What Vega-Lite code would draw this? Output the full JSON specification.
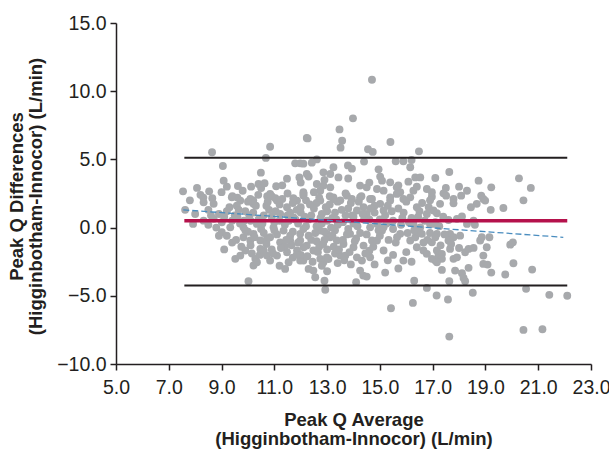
{
"$schema":"https://vega.github.io/schema/vega-lite/v6.json",
"width":475,"height":341,
"autosize":{"type":"none"},
"padding":{"left":116,"top":23,"right":18,"bottom":85},
"config":{"view":{"stroke":null},"font":"Liberation Sans",
"axis":{"domainColor":"#231f20","domainWidth":1.5,"tickColor":"#231f20","tickWidth":1.5,"tickSize":6,"labelFont":"Liberation Sans","labelFontSize":19.5,"labelColor":"#231f20","titleFont":"Liberation Sans","titleFontSize":18.5,"titleFontWeight":"bold","titleColor":"#231f20","grid":false,"format":".1f","titleLineHeight":19,"labelFlush":false,"labelOverlap":false}},
"datasets":{
"pts":[
{"avg":8.64,"diff":5.52},{"avg":10.84,"diff":5.93},{"avg":10.68,"diff":5.11},{"avg":12.23,"diff":6.57},{"avg":9.05,"diff":4.52},{"avg":10.49,"diff":4.03},{"avg":7.54,"diff":2.66},{"avg":8.07,"diff":2.91},{"avg":8.53,"diff":2.66},{"avg":9.08,"diff":3.44},{"avg":9.2,"diff":3.0},{"avg":9.62,"diff":3.05},{"avg":10.12,"diff":3.0},{"avg":10.4,"diff":3.2},{"avg":10.63,"diff":3.25},{"avg":11.07,"diff":3.03},{"avg":11.48,"diff":3.59},{"avg":11.79,"diff":4.71},{"avg":11.98,"diff":4.71},{"avg":11.95,"diff":3.68},{"avg":12.23,"diff":3.93},
{"avg":8.31,"diff":2.2},{"avg":8.65,"diff":2.15},{"avg":9.41,"diff":2.3},{"avg":9.6,"diff":2.2},{"avg":10.09,"diff":2.1},{"avg":10.39,"diff":2.4},{"avg":10.73,"diff":2.3},{"avg":11.04,"diff":2.15},{"avg":11.72,"diff":2.15},{"avg":12.1,"diff":2.35},
{"avg":14.7,"diff":10.84},{"avg":13.98,"diff":8.01},{"avg":13.47,"diff":7.2},{"avg":13.57,"diff":6.37},{"avg":13.51,"diff":5.86},{"avg":12.26,"diff":6.54},{"avg":15.4,"diff":6.28},{"avg":14.55,"diff":5.74},{"avg":14.73,"diff":5.55},{"avg":16.48,"diff":5.59},{"avg":12.61,"diff":5.0},{"avg":12.1,"diff":4.69},{"avg":12.42,"diff":4.76},{"avg":13.79,"diff":4.56},{"avg":13.94,"diff":4.32},{"avg":14.4,"diff":4.84},{"avg":14.95,"diff":4.27},{"avg":15.6,"diff":4.86},{"avg":15.89,"diff":4.86},{"avg":16.2,"diff":4.96},{"avg":16.15,"diff":4.42},{"avg":12.3,"diff":3.75},{"avg":12.86,"diff":4.05},{"avg":13.12,"diff":3.93},{"avg":13.24,"diff":4.42},{"avg":13.43,"diff":3.68},{"avg":15.01,"diff":3.74},{"avg":15.08,"diff":3.44},{"avg":15.39,"diff":3.32},{"avg":16.34,"diff":3.68},{"avg":16.53,"diff":3.68},{"avg":17.1,"diff":3.64},{"avg":16.08,"diff":3.37},{"avg":12.61,"diff":3.2},{"avg":12.86,"diff":3.08},{"avg":13.12,"diff":2.95},{"avg":14.25,"diff":3.08},{"avg":14.5,"diff":2.95},{"avg":12.1,"diff":2.59},{"avg":12.74,"diff":2.71},{"avg":14.89,"diff":2.83},{"avg":15.14,"diff":2.71},{"avg":15.64,"diff":2.95},{"avg":15.77,"diff":2.59},{"avg":16.27,"diff":2.71},{"avg":16.78,"diff":2.83},{"avg":13.24,"diff":2.1},{"avg":13.94,"diff":2.1},{"avg":14.25,"diff":2.22},{"avg":14.63,"diff":2.1},{"avg":15.39,"diff":2.22},{"avg":15.89,"diff":2.1},{"avg":16.97,"diff":2.27},
{"avg":17.63,"diff":4.08},{"avg":18.74,"diff":3.44},{"avg":19.22,"diff":2.95},{"avg":20.27,"diff":3.61},{"avg":20.72,"diff":2.91},{"avg":17.41,"diff":2.51},{"avg":17.51,"diff":2.34},{"avg":17.79,"diff":2.1},{"avg":18.08,"diff":2.34},{"avg":18.84,"diff":2.34},{"avg":18.92,"diff":2.1},{"avg":20.44,"diff":2.0},{"avg":16.97,"diff":2.59},
{"avg":17.79,"diff":1.78},{"avg":18.99,"diff":1.98},{"avg":18.67,"diff":1.74},{"avg":18.45,"diff":1.49},{"avg":19.2,"diff":1.3},{"avg":19.68,"diff":1.44},{"avg":17.16,"diff":1.05},{"avg":17.6,"diff":0.56},{"avg":17.92,"diff":0.64},{"avg":18.11,"diff":0.81},{"avg":18.3,"diff":0.27},{"avg":18.55,"diff":0.51},{"avg":18.6,"diff":0.2},{"avg":16.9,"diff":0.27},{"avg":17.1,"diff":0.39},{"avg":17.16,"diff":-0.46},{"avg":17.1,"diff":-0.71},{"avg":16.97,"diff":-1.08},{"avg":17.66,"diff":-0.46},{"avg":17.79,"diff":-0.71},{"avg":17.6,"diff":-0.95},{"avg":18.04,"diff":-0.59},{"avg":18.86,"diff":-0.71},{"avg":18.8,"diff":-0.95},{"avg":19.15,"diff":-0.71},{"avg":19.05,"diff":-1.44},{"avg":19.94,"diff":-1.25},{"avg":20.04,"diff":-1.08},{"avg":17.16,"diff":-1.68},{"avg":17.22,"diff":-2.05},{"avg":17.35,"diff":-1.93},{"avg":17.1,"diff":-2.42},{"avg":17.35,"diff":-2.29},{"avg":17.66,"diff":-1.56},{"avg":17.79,"diff":-2.29},{"avg":17.92,"diff":-2.18},{"avg":18.23,"diff":-1.81},{"avg":18.36,"diff":-1.56},{"avg":18.55,"diff":-1.49},{"avg":18.92,"diff":-2.05},{"avg":18.92,"diff":-2.66},{"avg":19.08,"diff":-2.71},{"avg":20.06,"diff":-2.61},{"avg":17.35,"diff":-3.1},{"avg":17.85,"diff":-3.15},{"avg":18.11,"diff":-3.35},{"avg":18.17,"diff":-3.69},{"avg":18.23,"diff":-3.93},{"avg":18.36,"diff":-2.95},{"avg":19.22,"diff":-3.3},{"avg":19.75,"diff":-3.44},{"avg":20.77,"diff":-3.08},{"avg":17.63,"diff":-3.93},{"avg":20.54,"diff":-4.49},{"avg":17.15,"diff":-4.98},{"avg":17.58,"diff":-5.27},{"avg":18.52,"diff":-4.78},{"avg":21.42,"diff":-4.93},{"avg":22.1,"diff":-5.0},{"avg":20.44,"diff":-7.5},{"avg":21.16,"diff":-7.45},{"avg":17.63,"diff":-7.99},
{"avg":15.77,"diff":-0.46},{"avg":15.33,"diff":-0.9},{"avg":15.14,"diff":-1.68},{"avg":15.89,"diff":-2.42},{"avg":12.93,"diff":-4.56},{"avg":15.42,"diff":-5.91},{"avg":16.25,"diff":-5.52},{"avg":16.78,"diff":-4.42},{"avg":14.25,"diff":-3.15},{"avg":14.37,"diff":-3.52},{"avg":14.5,"diff":-3.59},{"avg":12.48,"diff":-3.15},{"avg":12.55,"diff":-3.64},{"avg":12.1,"diff":-2.42},{"avg":12.74,"diff":-2.29},{"avg":12.99,"diff":-2.18},{"avg":12.86,"diff":-2.54},{"avg":13.5,"diff":-2.05},{"avg":13.69,"diff":-2.05},{"avg":14.13,"diff":-2.18},{"avg":14.32,"diff":-2.42},{"avg":14.63,"diff":-2.18},{"avg":14.0,"diff":-1.44},{"avg":14.38,"diff":-1.32},{"avg":14.7,"diff":-0.95},{"avg":14.89,"diff":-0.95},{"avg":15.08,"diff":-0.22},{"avg":16.4,"diff":-1.44},{"avg":16.65,"diff":-1.68},{"avg":16.78,"diff":-1.93},{"avg":16.97,"diff":-2.29},{"avg":17.16,"diff":-2.54},{"avg":16.15,"diff":-0.95},{"avg":16.34,"diff":-0.71},{"avg":16.59,"diff":-0.46},{"avg":11.98,"diff":-0.95},{"avg":12.23,"diff":-1.32},{"avg":12.48,"diff":-1.68},{"avg":13.12,"diff":-0.71},{"avg":13.37,"diff":-0.95},{"avg":13.62,"diff":-1.2},{"avg":13.87,"diff":-0.46},{"avg":12.74,"diff":-0.22},{"avg":12.99,"diff":-0.46},{"avg":14.63,"diff":0.02},{"avg":14.89,"diff":0.27},{"avg":15.14,"diff":0.02},{"avg":14.13,"diff":1.25},{"avg":14.38,"diff":1.49},{"avg":14.5,"diff":1.0},{"avg":15.01,"diff":1.74},{"avg":15.14,"diff":1.25},{"avg":15.39,"diff":1.98},{"avg":15.64,"diff":2.47},{"avg":16.15,"diff":2.22},{"avg":16.4,"diff":1.49},{"avg":16.78,"diff":1.0},{"avg":17.03,"diff":1.25},{"avg":17.28,"diff":1.74},{"avg":16.27,"diff":0.27},{"avg":16.53,"diff":0.02},{"avg":17.03,"diff":0.27},{"avg":12.74,"diff":1.98},{"avg":13.24,"diff":2.22},{"avg":13.75,"diff":2.34},
{"avg":7.62,"diff":1.3},{"avg":7.92,"diff":0.27},{"avg":8.32,"diff":1.85},{"avg":8.32,"diff":0.51},{"avg":8.7,"diff":1.74},{"avg":8.7,"diff":0.64},{"avg":9.01,"diff":-0.34},{"avg":9.01,"diff":0.39},{"avg":9.33,"diff":0.02},{"avg":9.39,"diff":2.22},{"avg":9.71,"diff":1.98},{"avg":9.83,"diff":-0.71},{"avg":10.09,"diff":-0.95},{"avg":10.21,"diff":-0.46},{"avg":10.47,"diff":-0.95},{"avg":10.72,"diff":-0.83},{"avg":10.47,"diff":-1.56},{"avg":9.9,"diff":-1.68},{"avg":9.52,"diff":-2.29},{"avg":9.71,"diff":-2.05},{"avg":10.28,"diff":-2.29},{"avg":10.21,"diff":-2.78},{"avg":10.34,"diff":-2.54},{"avg":10.72,"diff":-2.05},{"avg":10.84,"diff":-2.42},{"avg":11.1,"diff":-2.05},{"avg":11.48,"diff":-1.81},{"avg":11.54,"diff":-2.54},{"avg":11.41,"diff":-3.03},{"avg":11.98,"diff":-2.42},{"avg":12.3,"diff":-3.03},{"avg":10.02,"diff":-3.93},
{"avg":9.58,"diff":1.61},{"avg":10.21,"diff":1.74},{"avg":10.84,"diff":2.47},{"avg":11.1,"diff":1.98},{"avg":11.48,"diff":1.49},{"avg":11.86,"diff":1.98},{"avg":12.11,"diff":2.47},{"avg":11.22,"diff":1.0},{"avg":11.73,"diff":0.75},{"avg":10.97,"diff":0.02},{"avg":11.35,"diff":-0.22},{"avg":11.98,"diff":-0.46},{"avg":9.83,"diff":0.02},{"avg":10.34,"diff":0.27},{"avg":10.84,"diff":-0.71},{"avg":11.22,"diff":-1.08},{"avg":11.6,"diff":-0.95},{"avg":12.11,"diff":-1.44},{"avg":11.86,"diff":-1.68},
{"avg":9.6,"diff":0.8},{"avg":9.9,"diff":1.2},{"avg":10.1,"diff":0.5},{"avg":10.3,"diff":1.6},{"avg":10.6,"diff":0.9},{"avg":10.8,"diff":1.3},{"avg":11.0,"diff":0.4},{"avg":11.2,"diff":1.7},{"avg":11.4,"diff":0.2},{"avg":11.6,"diff":1.1},{"avg":11.8,"diff":0.6},{"avg":12.0,"diff":1.5},{"avg":12.2,"diff":0.1},{"avg":12.4,"diff":0.9},{"avg":12.6,"diff":1.8},{"avg":12.8,"diff":0.3},{"avg":13.0,"diff":1.2},{"avg":13.2,"diff":0.7},{"avg":13.4,"diff":1.9},{"avg":13.6,"diff":0.4},{"avg":13.8,"diff":1.4},{"avg":10.0,"diff":-0.3},{"avg":10.5,"diff":-0.1},{"avg":11.1,"diff":-0.5},{"avg":11.7,"diff":-0.3},{"avg":12.3,"diff":-0.6},{"avg":12.9,"diff":-0.9},{"avg":13.3,"diff":-0.2},{"avg":10.2,"diff":2.0},{"avg":10.9,"diff":2.3},{"avg":11.5,"diff":2.5},{"avg":12.5,"diff":2.6},{"avg":13.1,"diff":2.3},{"avg":13.7,"diff":2.5},{"avg":12.7,"diff":-1.4},{"avg":13.0,"diff":-1.6},{"avg":11.4,"diff":-1.4},{"avg":10.7,"diff":-1.2},{"avg":12.0,"diff":-2.0},{"avg":13.4,"diff":-2.6},{"avg":14.0,"diff":0.8},{"avg":14.3,"diff":2.3},{"avg":14.6,"diff":0.6},{"avg":14.8,"diff":1.6},{"avg":15.2,"diff":0.9},{"avg":15.5,"diff":0.5},{"avg":15.9,"diff":1.1},{"avg":16.2,"diff":0.7},{"avg":16.6,"diff":1.8},{"avg":16.9,"diff":2.0},{"avg":15.0,"diff":-0.6},{"avg":15.6,"diff":-1.1},{"avg":16.0,"diff":-1.8},{"avg":16.4,"diff":-0.3},{"avg":16.8,"diff":-0.9},{"avg":17.4,"diff":0.8},{"avg":17.3,"diff":-1.3},{"avg":9.2,"diff":1.2},{"avg":8.9,"diff":1.0},{"avg":9.4,"diff":0.5},{"avg":8.5,"diff":1.3},{"avg":8.0,"diff":1.0},{"avg":7.8,"diff":2.0},{"avg":8.2,"diff":2.4},{"avg":9.0,"diff":2.6},{"avg":9.8,"diff":2.7},{"avg":10.5,"diff":2.9},{"avg":11.3,"diff":3.1},{"avg":12.0,"diff":3.3},{"avg":12.9,"diff":3.5},{"avg":13.8,"diff":3.6},{"avg":14.6,"diff":3.3},{"avg":15.7,"diff":3.1},{"avg":16.4,"diff":3.0},{"avg":17.5,"diff":2.9},{"avg":18.3,"diff":2.7},{"avg":18.0,"diff":3.0},
{"avg":9.3,"diff":1.5},{"avg":9.5,"diff":0.9},{"avg":9.7,"diff":0.3},{"avg":9.9,"diff":-0.2},{"avg":10.0,"diff":1.9},{"avg":10.2,"diff":1.1},{"avg":10.4,"diff":0.6},{"avg":10.6,"diff":-0.4},{"avg":10.7,"diff":1.6},{"avg":10.9,"diff":0.8},{"avg":11.0,"diff":-0.2},{"avg":11.2,"diff":0.5},{"avg":11.3,"diff":2.1},{"avg":11.5,"diff":0.9},{"avg":11.6,"diff":-0.6},{"avg":11.7,"diff":1.8},{"avg":11.9,"diff":0.3},{"avg":12.0,"diff":1.1},{"avg":12.1,"diff":-0.1},{"avg":12.2,"diff":2.0},{"avg":12.3,"diff":0.6},{"avg":12.4,"diff":-0.9},{"avg":12.5,"diff":1.4},{"avg":12.6,"diff":0.1},{"avg":12.7,"diff":2.2},{"avg":12.8,"diff":1.0},{"avg":12.9,"diff":-0.3},{"avg":13.0,"diff":0.5},{"avg":13.1,"diff":1.7},{"avg":13.2,"diff":-0.6},{"avg":13.3,"diff":1.1},{"avg":13.4,"diff":0.2},{"avg":13.5,"diff":2.0},{"avg":13.6,"diff":-0.9},{"avg":13.7,"diff":0.9},{"avg":13.8,"diff":-0.1},{"avg":13.9,"diff":1.8},{"avg":14.0,"diff":0.3},{"avg":14.1,"diff":-0.8},{"avg":14.2,"diff":1.9},{"avg":14.4,"diff":0.6},{"avg":14.5,"diff":-0.5},{"avg":14.7,"diff":2.1},{"avg":14.8,"diff":1.1},{"avg":15.0,"diff":0.6},{"avg":15.3,"diff":1.6},{"avg":15.5,"diff":-0.1},{"avg":15.7,"diff":1.4},{"avg":15.8,"diff":0.2},{"avg":16.0,"diff":1.9},{"avg":16.1,"diff":0.4},{"avg":16.3,"diff":-0.2},{"avg":16.5,"diff":1.2},{"avg":16.7,"diff":0.5},{"avg":16.9,"diff":-0.4},{"avg":10.1,"diff":-1.3},{"avg":10.9,"diff":-1.6},{"avg":11.7,"diff":-2.2},{"avg":12.6,"diff":-1.0},{"avg":13.3,"diff":-1.9},{"avg":13.9,"diff":-2.7},{"avg":14.6,"diff":-1.7},{"avg":15.3,"diff":-2.4},{"avg":15.7,"diff":-3.0},{"avg":16.2,"diff":-2.5},{"avg":13.0,"diff":-3.2},{"avg":11.2,"diff":-2.8},{"avg":9.4,"diff":-1.1},{"avg":8.9,"diff":-0.6},{"avg":8.5,"diff":0.2},{"avg":9.1,"diff":-1.6},{"avg":12.9,"diff":-3.9},{"avg":14.1,"diff":-4.0},{"avg":16.3,"diff":-3.9},{"avg":15.2,"diff":-3.3},
{"avg":9.55,"diff":-0.9},{"avg":9.75,"diff":-1.4},{"avg":10.15,"diff":-1.9},{"avg":10.45,"diff":-2.0},{"avg":10.6,"diff":-1.7},{"avg":10.95,"diff":-1.9},{"avg":11.25,"diff":-1.5},{"avg":11.65,"diff":-1.3},{"avg":11.85,"diff":-2.0},{"avg":12.25,"diff":-2.1},{"avg":12.45,"diff":-2.5},{"avg":12.65,"diff":-1.8},{"avg":12.85,"diff":-1.2},{"avg":13.05,"diff":-2.3},{"avg":13.25,"diff":-1.4},{"avg":13.45,"diff":-1.6},{"avg":13.65,"diff":-2.4},{"avg":13.85,"diff":-1.8},{"avg":14.05,"diff":-1.0},{"avg":14.25,"diff":-0.4},{"avg":14.45,"diff":-1.9},{"avg":14.75,"diff":-1.4},{"avg":9.65,"diff":1.3},{"avg":9.85,"diff":0.5},{"avg":10.05,"diff":0.9},{"avg":10.25,"diff":-0.7},{"avg":10.55,"diff":0.3},{"avg":10.75,"diff":1.9},{"avg":11.05,"diff":1.2},{"avg":11.45,"diff":-0.9},{"avg":11.55,"diff":0.5},{"avg":11.85,"diff":1.3},{"avg":12.15,"diff":0.8},{"avg":12.35,"diff":1.7},{"avg":12.55,"diff":-0.4},{"avg":12.75,"diff":0.7},{"avg":12.95,"diff":1.5},{"avg":13.15,"diff":0.0},{"avg":13.35,"diff":0.6},{"avg":13.55,"diff":1.3},{"avg":13.75,"diff":-0.5},{"avg":13.95,"diff":0.9},{"avg":14.15,"diff":0.1},{"avg":14.35,"diff":1.0},{"avg":14.65,"diff":1.4},{"avg":14.95,"diff":-0.2},{"avg":15.25,"diff":0.3},{"avg":15.45,"diff":1.2},{"avg":15.65,"diff":-0.7},{"avg":15.85,"diff":0.7},{"avg":16.05,"diff":-0.4},{"avg":16.45,"diff":0.8},{"avg":16.65,"diff":-1.1},{"avg":16.85,"diff":1.5},{"avg":17.25,"diff":0.1},{"avg":17.45,"diff":-0.5},{"avg":17.7,"diff":-1.2},{"avg":18.0,"diff":-1.5},{"avg":8.8,"diff":0.0},{"avg":9.2,"diff":-0.6},{"avg":9.1,"diff":0.8},{"avg":8.6,"diff":0.9},{"avg":11.9,"diff":-1.1},{"avg":12.8,"diff":-2.8},{"avg":14.8,"diff":-2.7},{"avg":15.5,"diff":-2.0}
],
"limits":[{"avg":7.59,"avg2":22.1,"diff":5.13},{"avg":7.59,"avg2":22.1,"diff":-4.25}],
"mean":[{"avg":7.59,"avg2":22.1,"diff":0.5}],
"reg":[{"avg":7.55,"diff":1.3},{"avg":21.95,"diff":-0.71}]
},
"encoding":{
"x":{"field":"avg","type":"quantitative","scale":{"domain":[5,23],"nice":false,"zero":false},
"axis":{"values":[5,7,9,11,13,15,17,19,21,23],"labelPadding":8,"titleBaseline":"top","titleY":46,"title":["Peak Q Average","(Higginbotham-Innocor) (L/min)"]}},
"y":{"field":"diff","type":"quantitative","scale":{"domain":[-10,15],"nice":false,"zero":false},
"axis":{"values":[-10,-5,0,5,10,15],"labelPadding":4,"titleBaseline":"top","titleX":-109,"titleY":173,"titleAlign":"center","title":["Peak Q Differences","(Higginbotham-Innocor) (L/min)"]}}
},
"layer":[
{"data":{"name":"pts"},"mark":{"type":"circle","size":62,"color":"#a7a9ac","opacity":1}},
{"data":{"name":"limits"},"mark":{"type":"rule","color":"#231f20","strokeWidth":2},"encoding":{"x2":{"field":"avg2"}}},
{"data":{"name":"mean"},"mark":{"type":"rule","color":"#b5124c","strokeWidth":3.5},"encoding":{"x2":{"field":"avg2"}}},
{"data":{"name":"reg"},"mark":{"type":"line","color":"#4a8dbf","strokeWidth":1.3,"strokeDash":[6,3]},"encoding":{}}
]
}
